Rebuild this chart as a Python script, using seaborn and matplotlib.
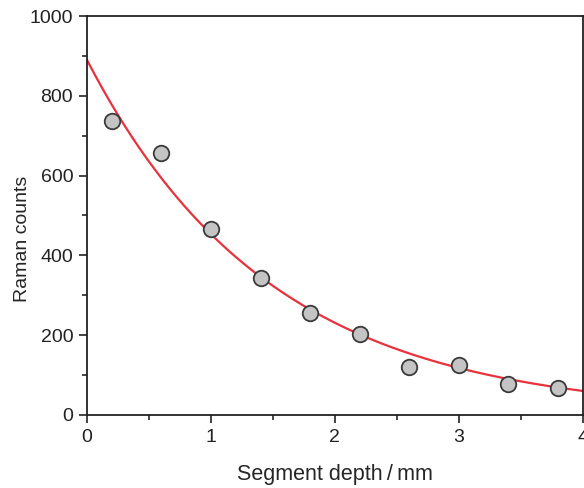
import numpy as np
import pandas as pd
import matplotlib.pyplot as plt
from matplotlib.ticker import MultipleLocator
import seaborn as sns

# measured points
depth = [0.2, 0.6, 1.0, 1.4, 1.8, 2.2, 2.6, 3.0, 3.4, 3.8]
counts = [737, 657, 467, 344, 255, 202, 121, 125, 78, 66]

# exponential fit y = A * exp(-k x), parameters
fit_A = 890
fit_k = 0.675

sns.set_style("ticks")
plt.rcParams['font.family'] = ['Liberation Sans', 'DejaVu Sans']

fig = plt.figure(figsize=(5.84, 4.88), dpi=100)
ax = fig.add_axes([0.149, 0.150, 0.849, 0.817])

x_fit = np.linspace(0, 4, 200)
fit_df = pd.DataFrame({'depth': x_fit, 'counts': fit_A * np.exp(-fit_k * x_fit)})
sns.lineplot(data=fit_df, x='depth', y='counts', ax=ax, color='#e8323c', lw=1.6, zorder=2)

pts = pd.DataFrame({'depth': depth, 'counts': counts})
sns.scatterplot(data=pts, x='depth', y='counts', ax=ax, s=125, color='#c4c4c4',
                edgecolor='#3a3a3a', linewidth=1.3, zorder=3)

ax.set_xlim(0, 4)
ax.set_ylim(0, 1000)
ax.xaxis.set_major_locator(MultipleLocator(1))
ax.xaxis.set_minor_locator(MultipleLocator(0.5))
ax.yaxis.set_major_locator(MultipleLocator(200))
ax.yaxis.set_minor_locator(MultipleLocator(100))
ax.tick_params(which='major', direction='out', length=6, width=1.2, labelsize=14,
               colors='#222222', pad=4)
ax.tick_params(which='minor', direction='out', length=3.5, width=1.2)
ax.tick_params(top=False, right=False, which='both')
for sp in ax.spines.values():
    sp.set_linewidth(1.3)
    sp.set_color('#222222')

ax.set_xlabel('Segment depth\u2009/\u2009mm', fontsize=15.5, labelpad=13)
ax.set_ylabel('Raman counts', fontsize=14)
ax.yaxis.set_label_coords(-0.113, 0.441)

fig.savefig('out.png', dpi=100)
